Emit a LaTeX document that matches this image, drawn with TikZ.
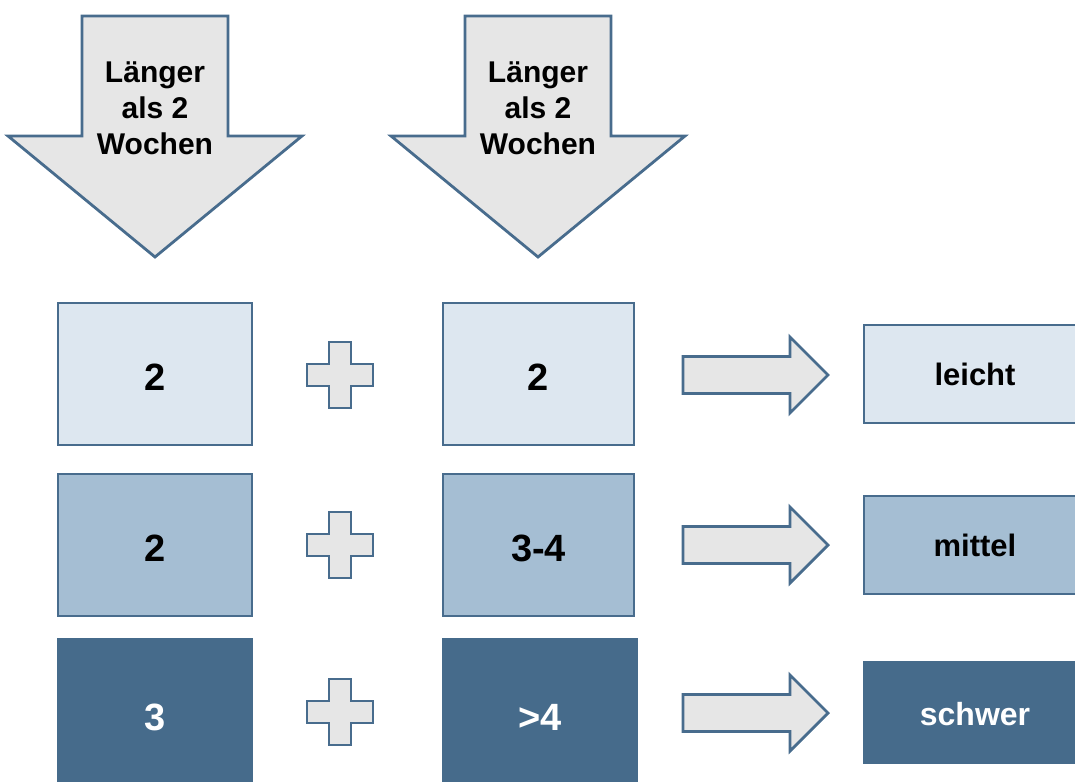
\documentclass[tikz,border=0pt]{standalone}
\usepackage{fontspec}
\setmainfont{Liberation Sans}
\definecolor{edge}{HTML}{486C8D}
\definecolor{lightfill}{HTML}{DDE7F0}
\definecolor{midfill}{HTML}{A5BED3}
\definecolor{darkfill}{HTML}{466B8B}
\definecolor{grayfill}{HTML}{E6E6E6}
\begin{document}
\begin{tikzpicture}[x=1pt,y=-1pt,
  shapeline/.style={draw=edge,line width=2.8pt,line join=miter,fill=grayfill},
  boxbase/.style={draw=edge,line width=2.8pt,inner sep=0pt,
    font=\fontsize{38}{40}\selectfont\bfseries,text height=33pt,text depth=0pt},
  lightbox/.style={boxbase,fill=lightfill,text=black},
  midbox/.style={boxbase,fill=midfill,text=black},
  darkbox/.style={boxbase,draw=darkfill,fill=darkfill,text=white,text height=39pt},
  inbox/.style={minimum width=194pt,minimum height=142pt},
  outbox/.style={minimum width=222pt,minimum height=98pt,font=\fontsize{31}{34}\selectfont\bfseries,text height=23pt,text depth=0pt},
  headtext/.style={align=center,font=\fontsize{30}{36}\selectfont\bfseries,text=black,inner sep=0pt}
]
\useasboundingbox (0,0) rectangle (1075,781);
% big down arrows
\foreach \cx in {155, 538}{
  \draw[shapeline] (\cx-73,16) -- (\cx+73,16) -- (\cx+73,136) -- (\cx+147,136)
     -- (\cx,257) -- (\cx-147,136) -- (\cx-73,136) -- cycle;
}
\node[headtext] (h1) at (155,108) {Länger\\als 2\\Wochen};
\node[headtext] (h2) at (538,108) {Länger\\als 2\\Wochen};
% input boxes
\node[lightbox,inbox] (a1) at (155,374) {2};
\node[midbox,inbox] (a2) at (155,545) {2};
\node[darkbox,inbox,minimum height=144pt] (a3) at (155,711) {3};
\node[lightbox,inbox,minimum width=191pt] (b1) at (538.5,374) {2};
\node[midbox,inbox,minimum width=191pt] (b2) at (538.5,545) {3-4};
\node[darkbox,inbox,minimum width=194pt,minimum height=144pt] (b3) at (540,711) {>4};
% plus signs
\foreach \py in {375,545,712}{
  \draw[shapeline] (340-11,\py-33) -- (340+11,\py-33) -- (340+11,\py-11) -- (340+33,\py-11)
    -- (340+33,\py+11) -- (340+11,\py+11) -- (340+11,\py+33) -- (340-11,\py+33)
    -- (340-11,\py+11) -- (340-33,\py+11) -- (340-33,\py-11) -- (340-11,\py-11) -- cycle;
}
% right arrows
\foreach \ay in {375,545,713}{
  \draw[shapeline] (683,\ay-18.5) -- (790,\ay-18.5) -- (790,\ay-38) -- (828,\ay)
    -- (790,\ay+38) -- (790,\ay+18.5) -- (683,\ay+18.5) -- cycle;
}
% result boxes
\node[lightbox,outbox] (r1) at (975,374) {leicht};
\node[midbox,outbox] (r2) at (975,545) {mittel};
\node[darkbox,outbox,minimum height=101pt,text height=26pt,font=\fontsize{32}{34}\selectfont\bfseries] (r3) at (975,712.5) {schwer};
\end{tikzpicture}
\end{document}
